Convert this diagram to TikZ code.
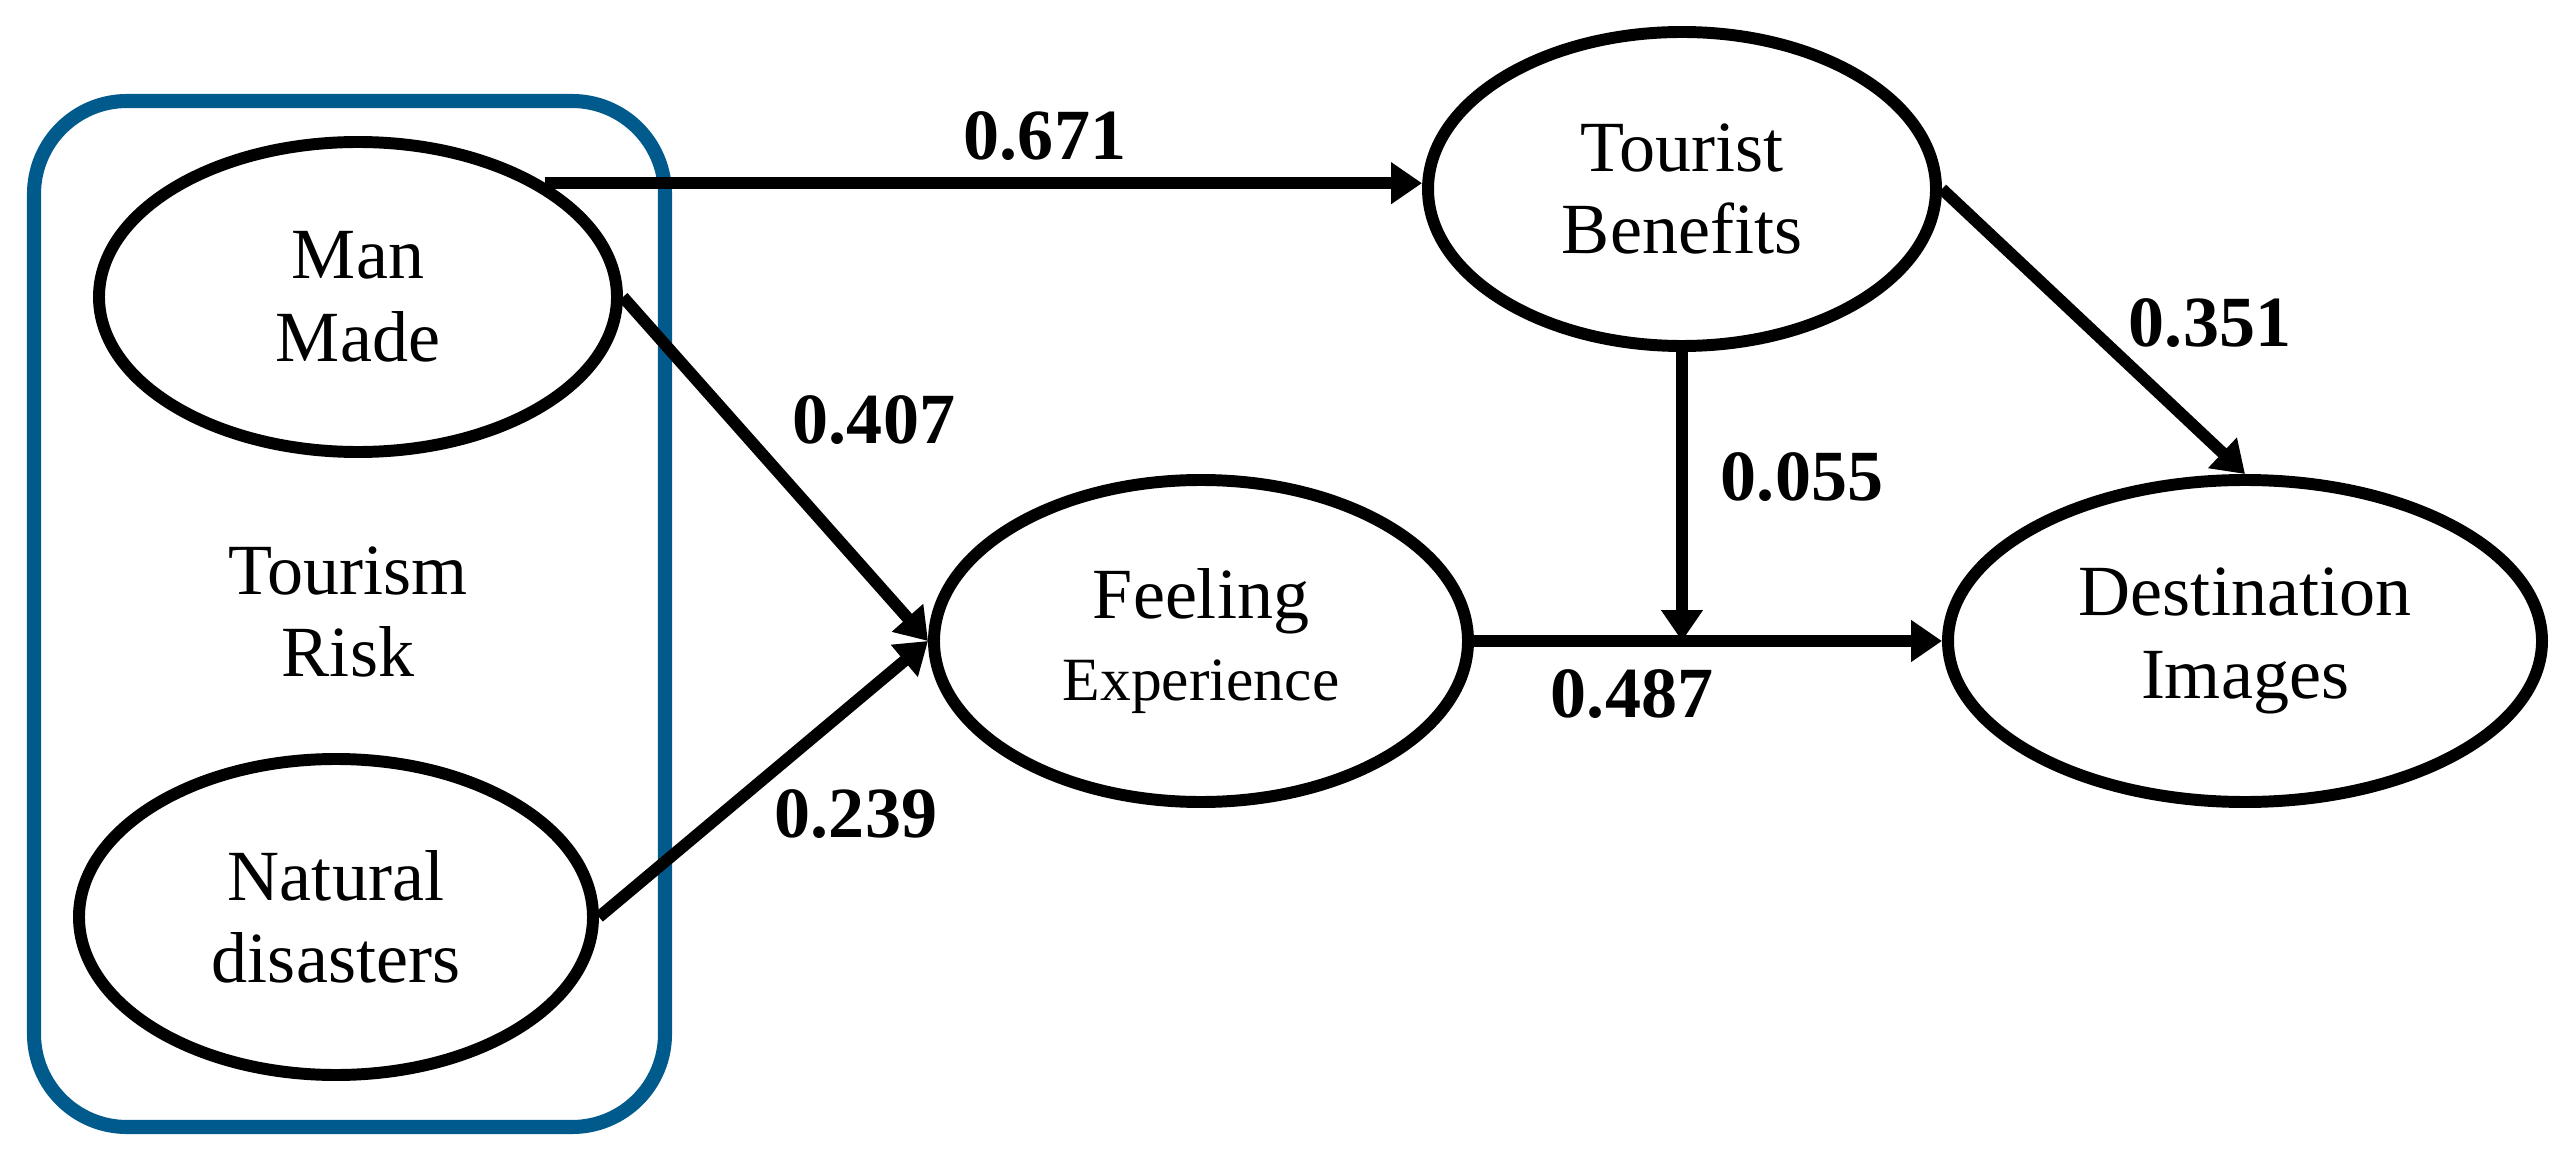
\documentclass[tikz,border=0pt]{standalone}
\usepackage{fontspec}
\setmainfont{Liberation Serif}
\usetikzlibrary{shapes.geometric,arrows.meta}
\definecolor{riskblue}{RGB}{0,90,140}

\begin{document}
\begin{tikzpicture}[line width=3.4pt,
    latent/.style={draw, ellipse, inner sep=0pt, align=center, font=\fontsize{20.5}{23.5}\selectfont},
    coef/.style={font=\fontsize{20.5}{24}\selectfont\bfseries},
    link/.style={-{Triangle[length=0.31cm,width=0.40cm]}}]
        \useasboundingbox (0,0) rectangle (25.75,11.51);
        % tourism risk group
        \draw[riskblue, line width=4pt, rounded corners=0.93cm] (0.34,0.24) rectangle (6.65,10.50);
        \node[font=\fontsize{20.5}{23.5}\selectfont, align=center] (risk) at (3.48,5.39) {Tourism\\Risk};
        \node[latent, minimum width=5.18cm, minimum height=3.10cm] (man) at (3.58,8.54) {Man\\Made};
        \node[latent, minimum width=5.14cm, minimum height=3.16cm] (nat) at (3.36,2.34) {Natural\\disasters};
        \node[latent, minimum width=5.34cm, minimum height=3.22cm] (feel) at (12.01,5.10) {Feeling\\{\fontsize{17.5}{20}\selectfont Experience}};
        \node[latent, minimum width=5.08cm, minimum height=3.14cm] (bene) at (16.82,9.62) {Tourist\\Benefits};
        \node[latent, minimum width=5.94cm, minimum height=3.22cm] (dest) at (22.45,5.10) {Destination\\Images};
        % paths
        \draw[link] (man.north east) -- (man.north east -| bene.west);
        \draw[link] (man.east) -- (feel.west);
        \draw[link] (nat.east) -- (feel.west);
        \draw[link] (bene.east) -- (dest.north);
        \draw[link] (feel.east) -- (dest.west);
        \draw[link] (bene.south) -- (bene.south |- feel.east);
        % coefficients
        \node[coef] (c1) at (10.45,10.15) {0.671};
        \node[coef] (c2) at (8.74,7.31) {0.407};
        \node[coef] (c3) at (8.56,3.37) {0.239};
        \node[coef] (c4) at (22.10,8.28) {0.351};
        \node[coef] (c5) at (18.02,6.74) {0.055};
        \node[coef] (c6) at (16.32,4.57) {0.487};
    \end{tikzpicture}
\end{document}
